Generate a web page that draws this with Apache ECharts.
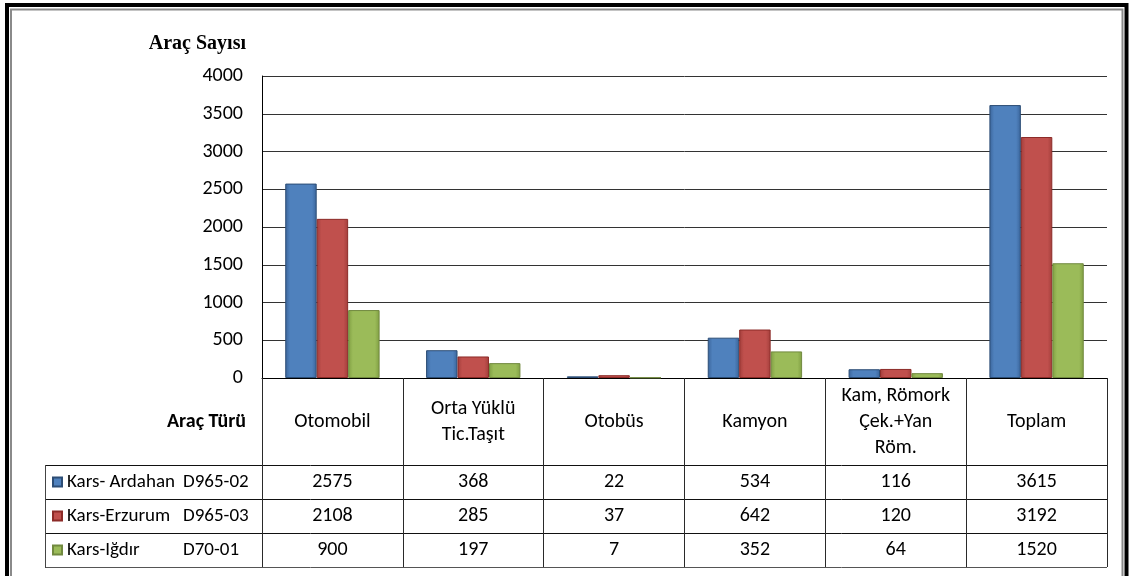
<!DOCTYPE html>
<html>
<head>
<meta charset="utf-8">
<script src="https://cdn.jsdelivr.net/npm/echarts@6/dist/echarts.min.js"></script>
<style>
  html, body { margin: 0; padding: 0; background: #fff; }
  #chart { width: 1130px; height: 576px; }
</style>
</head>
<body>
<div id="chart"></div>
<script>
// Vehicle counts by type on three Kars road sections
const categories = ['Otomobil', 'Orta Yüklü\nTic.Taşıt', 'Otobüs', 'Kamyon', 'Kam, Römork\nÇek.+Yan\nRöm.', 'Toplam'];
const seriesNames = ['Kars- Ardahan D965-02', 'Kars-Erzurum D965-03', 'Kars-Iğdır D70-01'];
const ardahan = [2575, 368, 22, 534, 116, 3615];
const erzurum = [2108, 285, 37, 642, 120, 3192];
const igdir = [900, 197, 7, 352, 64, 1520];
const yTicks = [0, 500, 1000, 1500, 2000, 2500, 3000, 3500, 4000];

const FONT = 'Carlito, Lato, "Noto Sans", sans-serif';
const seriesValues = [ardahan, erzurum, igdir];
const palette = [
  { mid: '#4F81BD', edge: '#3A649A', border: '#2C4D75' },
  { mid: '#C0504D', edge: '#A23E3B', border: '#8C2B28' },
  { mid: '#9BBB59', edge: '#7F9E42', border: '#71893F' }
];

// grid geometry (layout only)
const G = { left: 262, right: 23, top: 76, bottom: 198 };
const axisY = 576 - G.bottom;           // 378
const rowCenters = [482, 516, 550];
const tableLines = [465, 499, 533, 567];

const chart = echarts.init(document.getElementById('chart'));

function barGradient(p) {
  return new echarts.graphic.LinearGradient(0, 0, 1, 0, [
    { offset: 0, color: p.edge },
    { offset: 0.15, color: p.mid },
    { offset: 0.85, color: p.mid },
    { offset: 1, color: p.edge }
  ]);
}

// one hidden category axis per data row of the table, showing the values
const valueAxes = seriesValues.map((vals, i) => ({
  type: 'category',
  gridIndex: 0,
  position: 'bottom',
  offset: rowCenters[i] - axisY,
  data: vals.map(String),
  axisLine: { show: false },
  axisTick: { show: false },
  splitLine: { show: false },
  axisLabel: {
    interval: 0, margin: 0, verticalAlign: 'middle',
    fontFamily: FONT, fontSize: 20, color: '#000'
  }
}));

const option = {
  animation: false,
  backgroundColor: '#fff',
  grid: { left: G.left, right: G.right, top: G.top, bottom: G.bottom, containLabel: false },
  legend: {
    orient: 'vertical',
    left: 52,
    top: 472,
    padding: 0,
    itemWidth: 9,
    itemHeight: 9,
    itemGap: 14,
    icon: 'rect',
    data: seriesNames,
    formatter: function (name) {
      const m = name.match(/^(.*?)\s+(D[\d-]+)$/);
      return '{a|' + m[1] + '}{b|' + m[2] + '}';
    },
    textStyle: {
      fontFamily: FONT, fontSize: 19, color: '#000', lineHeight: 20,
      rich: {
        a: { width: 116, fontFamily: FONT, fontSize: 19, color: '#000', lineHeight: 20 },
        b: { fontFamily: FONT, fontSize: 19, color: '#000', lineHeight: 20 }
      }
    }
  },
  xAxis: [{
    type: 'category',
    data: categories,
    boundaryGap: true,
    axisLine: { show: true, lineStyle: { color: '#000', width: 1 } },
    axisTick: { show: true, length: 567 - axisY, lineStyle: { color: '#2a2a2a', width: 1 } },
    axisLabel: {
      interval: 0, margin: 44, verticalAlign: 'middle', align: 'center',
      fontFamily: FONT, fontSize: 20, color: '#000', lineHeight: 26
    }
  }].concat(valueAxes),
  yAxis: {
    type: 'value',
    min: yTicks[0],
    max: yTicks[yTicks.length - 1],
    interval: yTicks[1] - yTicks[0],
    name: 'Araç Sayısı',
    nameLocation: 'end',
    nameGap: 22,
    nameTextStyle: {
      fontFamily: '"Liberation Serif", "DejaVu Serif", serif',
      fontWeight: 'bold', fontSize: 20, color: '#000',
      align: 'right', padding: [0, 16, 0, 0]
    },
    axisLine: { show: true, lineStyle: { color: '#000', width: 1 } },
    axisTick: { show: false },
    splitLine: { show: true, lineStyle: { color: '#333', width: 1 } },
    axisLabel: {
      margin: 19, fontFamily: FONT, fontSize: 20, color: '#000',
      formatter: v => String(v)
    }
  },
  series: seriesValues.map((vals, i) => ({
    name: seriesNames[i],
    type: 'bar',
    xAxisIndex: 0,
    data: vals,
    barGap: '0%',
    barCategoryGap: '33%',
    itemStyle: {
      color: barGradient(palette[i]),
      borderColor: palette[i].border,
      borderWidth: 1
    }
  })),
  graphic: [
    // outer frame with shadow edge
    { type: 'rect', silent: true, z: 100,
      shape: { x: 7, y: 5, width: 1119.5, height: 640 },
      style: { fill: null, stroke: '#000', lineWidth: 4 } },
    { type: 'rect', silent: true, z: 100,
      shape: { x: 11, y: 9.5, width: 1111.5, height: 640 },
      style: { fill: null, stroke: '#8a8a8a', lineWidth: 2 } },
    // header cell caption
    { type: 'text', silent: true,
      style: { text: 'Araç Türü', x: 246, y: 422, align: 'right', verticalAlign: 'middle',
               fontFamily: FONT, fontWeight: 'bold', fontSize: 20, fill: '#000' } },
    // table rows
    ...tableLines.map(y => ({
      type: 'line', silent: true,
      shape: { x1: 45, y1: y + 0.5, x2: 1107, y2: y + 0.5 },
      style: { stroke: y === 567 ? '#555' : '#111', lineWidth: 1 }
    })),
    { type: 'line', silent: true,
      shape: { x1: 45.5, y1: 465, x2: 45.5, y2: 568 },
      style: { stroke: '#444', lineWidth: 1 } }
  ]
};

chart.setOption(option);
</script>
</body>
</html>
